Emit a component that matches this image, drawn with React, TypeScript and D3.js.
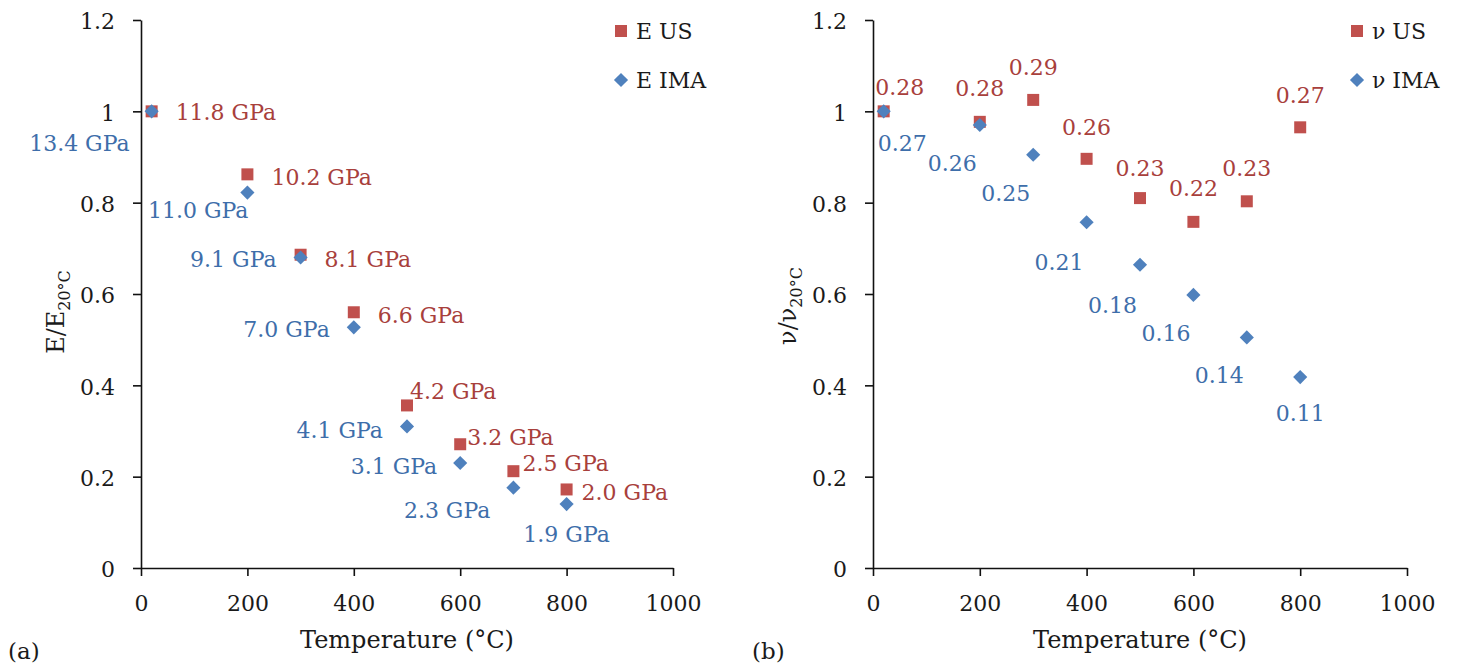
import { useEffect, useRef } from 'react';
import * as d3 from 'd3';

// temperatures (°C)
const temperatures = [20, 200, 300, 400, 500, 600, 700, 800];

// (a) normalised Young's modulus
const eUS = [1.0, 0.862, 0.686, 0.56, 0.356, 0.271, 0.212, 0.172];
const eIMA = [1.0, 0.822, 0.68, 0.527, 0.31, 0.23, 0.176, 0.14];
const eUSLabels = ['11.8 GPa', '10.2 GPa', '8.1 GPa', '6.6 GPa', '4.2 GPa', '3.2 GPa', '2.5 GPa', '2.0 GPa'];
const eIMALabels = ['13.4 GPa', '11.0 GPa', '9.1 GPa', '7.0 GPa', '4.1 GPa', '3.1 GPa', '2.3 GPa', '1.9 GPa'];

// (b) normalised Poisson's ratio
const nuUS = [1.0, 0.977, 1.025, 0.896, 0.81, 0.758, 0.803, 0.965];
const nuIMA = [1.0, 0.97, 0.905, 0.757, 0.664, 0.598, 0.505, 0.418];
const nuUSLabels = ['0.28', '0.28', '0.29', '0.26', '0.23', '0.22', '0.23', '0.27'];
const nuIMALabels = ['0.27', '0.26', '0.25', '0.21', '0.18', '0.16', '0.14', '0.11'];

const xTicks = [0, 200, 400, 600, 800, 1000];
const yTicks = [0, 0.2, 0.4, 0.6, 0.8, 1, 1.2];

// where each data label sits relative to its marker: [anchor, dx, dy]
const eUSPlace = [['start', 24, 1], ['start', 24, 3], ['start', 24, 4], ['start', 24, 3], ['start', 3, -14], ['start', 7, -7], ['start', 9, -8], ['start', 15, 3]];
const eIMAPlace = [['end', -22, 32], ['end', 1, 17], ['end', -24, 2], ['end', -24, 2], ['end', -24, 4], ['end', -23, 3], ['end', -23, 22], ['middle', 0, 30]];
const nuUSPlace = [['middle', 16, -24], ['middle', 0, -34], ['middle', 0, -33], ['middle', 0, -32], ['middle', 0, -30], ['middle', 0, -34], ['middle', 0, -33], ['middle', 0, -32]];
const nuIMAPlace = [['start', -6, 32], ['end', -3, 38], ['end', -3, 38], ['end', -3, 40], ['end', -3, 40], ['end', -3, 38], ['end', -3, 38], ['middle', 0, 36]];

const RED = '#C0504D';
const BLUE = '#4F81BD';
const RED_TEXT = '#A8403C';
const BLUE_TEXT = '#3E6EAA';
const FONT = '"DejaVu Serif", serif';

export default function App() {
  const ref = useRef<SVGSVGElement>(null);

  useEffect(() => {
    const svg = d3.select(ref.current);
    svg.selectAll('*').remove();

    const y = d3.scaleLinear().domain([0, 1.2]).range([568, 20]);

    const drawPanel = (cfg: any) => {
      const x = d3.scaleLinear().domain([0, 1000]).range([cfg.x0, cfg.x1]);
      const g = svg.append('g');

      // axes
      const xa = g.append('g')
        .attr('transform', `translate(0,${y(0)})`)
        .call(d3.axisBottom(x).tickValues(xTicks).tickSize(8).tickSizeOuter(0).tickPadding(19).tickFormat(d3.format('d')));
      const ya = g.append('g')
        .attr('transform', `translate(${cfg.x0},0)`)
        .call(d3.axisLeft(y).tickValues(yTicks).tickSize(8).tickSizeOuter(0).tickPadding(18).tickFormat((d: any) => String(d)));
      [xa, ya].forEach(a => {
        a.attr('font-family', FONT).attr('font-size', 22);
        a.selectAll('path, line').attr('stroke', '#111').attr('stroke-width', 1.6);
        a.selectAll('text').attr('fill', '#1a1a1a');
      });
      ya.selectAll('text').attr('dy', '0.4em');

      // axis titles
      g.append('text')
        .attr('x', (cfg.x0 + cfg.x1) / 2).attr('y', 648)
        .attr('text-anchor', 'middle')
        .attr('font-family', FONT).attr('font-size', 24).attr('fill', '#1a1a1a')
        .text('Temperature (°C)');
      const yt = g.append('text')
        .attr('transform', `translate(${cfg.titleX},${cfg.titleY}) rotate(-90)`)
        .attr('text-anchor', 'middle')
        .attr('font-family', FONT).attr('font-size', 24).attr('fill', '#1a1a1a');
      yt.append('tspan').text(cfg.title);
      yt.append('tspan').attr('font-size', 16).attr('dy', 6).text('20°C');

      g.append('text')
        .attr('x', cfg.tagX).attr('y', 659)
        .attr('font-family', FONT).attr('font-size', 23).attr('fill', '#1a1a1a')
        .text(cfg.tag);

      const square = d3.symbol().type(d3.symbolSquare).size(144)();
      const diamond = d3.symbol().type(d3.symbolSquare).size(100)();

      const series = [
        { vals: cfg.us, labels: cfg.usLabels, place: cfg.usPlace, shape: square, rot: 0, fill: RED, text: RED_TEXT },
        { vals: cfg.ima, labels: cfg.imaLabels, place: cfg.imaPlace, shape: diamond, rot: 45, fill: BLUE, text: BLUE_TEXT }
      ];

      series.forEach(s => {
        g.append('g').selectAll('path')
          .data(temperatures)
          .enter()
          .append('path')
          .attr('d', s.shape)
          .attr('transform', (d, i) => `translate(${x(d)},${y(s.vals[i])}) rotate(${s.rot})`)
          .attr('fill', s.fill);
      });

      series.forEach(s => {
        g.append('g').selectAll('text')
          .data(temperatures)
          .enter()
          .append('text')
          .attr('x', (d, i) => x(d) + s.place[i][1])
          .attr('y', (d, i) => y(s.vals[i]) + s.place[i][2])
          .attr('dy', '0.36em')
          .attr('text-anchor', (d, i) => s.place[i][0])
          .attr('font-family', FONT).attr('font-size', 22)
          .attr('fill', s.text)
          .text((d, i) => s.labels[i]);
      });

      // legend
      const lg = g.append('g').attr('transform', `translate(${cfg.legendX},0)`);
      lg.append('path').attr('d', square).attr('transform', 'translate(0,31)').attr('fill', RED);
      lg.append('path').attr('d', diamond).attr('transform', 'translate(0,80) rotate(45)').attr('fill', BLUE);
      lg.append('text').attr('x', 15).attr('y', 31).attr('dy', '0.36em')
        .attr('font-family', FONT).attr('font-size', 22).attr('fill', '#1a1a1a').text(cfg.legend[0]);
      lg.append('text').attr('x', 15).attr('y', 80).attr('dy', '0.36em')
        .attr('font-family', FONT).attr('font-size', 22).attr('fill', '#1a1a1a').text(cfg.legend[1]);
    };

    drawPanel({
      x0: 141, x1: 673, title: 'E/E', titleX: 64, titleY: 312, tag: '(a)', tagX: 8,
      us: eUS, ima: eIMA, usLabels: eUSLabels, imaLabels: eIMALabels, usPlace: eUSPlace, imaPlace: eIMAPlace,
      legendX: 621, legend: ['E US', 'E IMA']
    });
    drawPanel({
      x0: 873, x1: 1407, title: 'ν/ν', titleX: 796, titleY: 306, tag: '(b)', tagX: 752,
      us: nuUS, ima: nuIMA, usLabels: nuUSLabels, imaLabels: nuIMALabels, usPlace: nuUSPlace, imaPlace: nuIMAPlace,
      legendX: 1357, legend: ['ν US', 'ν IMA']
    });
  }, []);

  return (
    <svg ref={ref} width={1458} height={668} style={{ position: 'absolute', left: 0, top: 0, background: '#fff' }} />
  );
}
